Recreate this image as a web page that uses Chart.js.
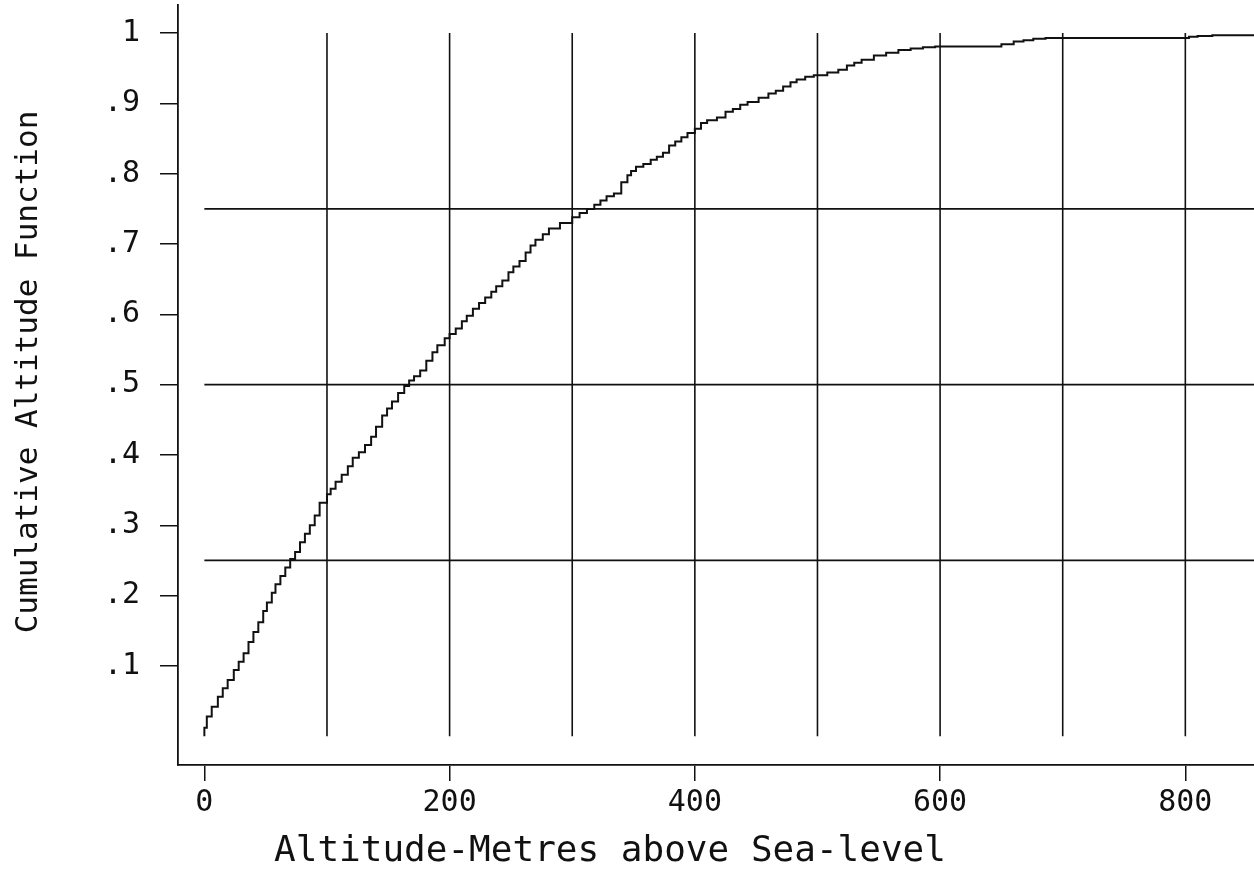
<!DOCTYPE html>
<html>
<head>
<meta charset="utf-8">
<title>Cumulative Altitude Function</title>
<script src="https://cdn.jsdelivr.net/npm/chart.js@4/dist/chart.umd.min.js"></script>
<style>
  html, body { margin: 0; padding: 0; background: #fff; }
  #wrap { width: 1254px; height: 875px; position: relative; }
</style>
</head>
<body>
<div id="wrap"><canvas id="cdf-chart"></canvas></div>
<script>
  // Escalones de la función acumulada (altitud en m, proporción acumulada)
  const altitude = [
    0, 2, 6, 11, 15, 19, 24, 28, 32, 36, 40, 44, 48, 51, 55, 58, 62, 66, 70, 74,
    78, 82, 86, 90, 94, 100, 103, 107, 112, 117, 121, 126, 131, 136, 140, 145, 149, 153, 158, 163,
    167, 171, 176, 181, 186, 190, 196, 200, 205, 210, 214, 219, 224, 229, 234, 238, 243, 248, 252, 257,
    262, 266, 270, 276, 281, 290, 300, 306, 312, 318, 323, 328, 334, 340, 345, 348, 352, 358, 364, 369,
    374, 379, 384, 389, 394, 400, 405, 410, 418, 425, 431, 437, 443, 452, 460, 466, 472, 478, 483, 490,
    497, 508, 517, 524, 530, 536, 546, 556, 566, 576, 586, 596, 650, 660, 668, 676, 686, 803, 810, 822,
    856
  ];
  const cumulative = [
    0.000, 0.012, 0.028, 0.042, 0.056, 0.068, 0.080, 0.094, 0.106, 0.118, 0.134, 0.148, 0.162, 0.178, 0.190, 0.204, 0.216, 0.228, 0.240, 0.252,
    0.262, 0.276, 0.288, 0.300, 0.314, 0.332, 0.344, 0.352, 0.362, 0.372, 0.384, 0.396, 0.404, 0.414, 0.426, 0.440, 0.456, 0.466, 0.476, 0.488,
    0.498, 0.506, 0.512, 0.520, 0.534, 0.546, 0.556, 0.566, 0.572, 0.580, 0.590, 0.598, 0.608, 0.616, 0.624, 0.632, 0.640, 0.648, 0.660, 0.668,
    0.676, 0.688, 0.698, 0.706, 0.714, 0.722, 0.730, 0.738, 0.744, 0.750, 0.756, 0.762, 0.768, 0.772, 0.788, 0.798, 0.804, 0.810, 0.814, 0.820,
    0.824, 0.830, 0.840, 0.846, 0.852, 0.858, 0.864, 0.872, 0.876, 0.880, 0.888, 0.892, 0.898, 0.902, 0.908, 0.914, 0.918, 0.924, 0.930, 0.934,
    0.938, 0.940, 0.944, 0.948, 0.954, 0.958, 0.962, 0.968, 0.972, 0.976, 0.978, 0.980, 0.981, 0.984, 0.988, 0.990, 0.992, 0.993, 0.995, 0.996,
    0.997
  ];

  // Líneas de referencia
  const gridAltitudes = [100, 200, 300, 400, 500, 600, 700, 800];
  const refLevels = [0.25, 0.5, 0.75];
  const gridSpan = [0, 1];          // las verticales van de 0 a 1
  const refSpan = [0, 856];         // las horizontales desde 0 hasta el borde

  // Marcas de los ejes
  const xTicks = [0, 200, 400, 600, 800];
  const yTicks = [0.1, 0.2, 0.3, 0.4, 0.5, 0.6, 0.7, 0.8, 0.9, 1];

  const xTitle = "Altitude-Metres above Sea-level";
  const yTitle = "Cumulative Altitude Function";

  const FONT = "'DejaVu Sans Mono', monospace";
  const INK = "#111";

  const curve = altitude.map((a, i) => ({ x: a, y: cumulative[i] }));

  const refDatasets = [];
  gridAltitudes.forEach(a => {
    refDatasets.push({
      data: gridSpan.map(v => ({ x: a, y: v })),
      borderColor: INK, borderWidth: 1.6, pointRadius: 0
    });
  });
  refLevels.forEach(l => {
    refDatasets.push({
      data: refSpan.map(v => ({ x: v, y: l })),
      borderColor: INK, borderWidth: 1.6, pointRadius: 0
    });
  });

  // Títulos de ejes dibujados a mano (posición libre)
  const axisTitles = {
    id: "axisTitles",
    afterDraw(chart) {
      const ctx = chart.ctx;
      ctx.save();
      ctx.fillStyle = INK;
      ctx.textAlign = "center";
      ctx.textBaseline = "middle";

      ctx.font = "36px " + FONT;
      ctx.fillText(xTitle, 610, 852);

      ctx.translate(29, 372);
      ctx.rotate(-Math.PI / 2);
      ctx.font = "31px " + FONT;
      ctx.fillText(yTitle, 0, 0);
      ctx.restore();
    }
  };

  // Sin margen extra por las etiquetas de los extremos
  function noEdgePadding(s) {
    s.paddingTop = 0;
    s.paddingBottom = 0;
    s.paddingLeft = 0;
    s.paddingRight = 0;
  }

  new Chart(document.getElementById("cdf-chart"), {
    type: "line",
    data: {
      datasets: [
        {
          data: curve,
          stepped: "after",
          borderColor: INK,
          borderWidth: 2,
          pointRadius: 0
        },
        ...refDatasets
      ]
    },
    options: {
      responsive: true,
      maintainAspectRatio: false,
      animation: false,
      events: [],
      layout: { padding: { top: 5, right: 0, left: 0, bottom: 0 } },
      scales: {
        x: {
          type: "linear",
          min: -21.5,
          max: 856,
          afterBuildTicks: s => { s.ticks = xTicks.map(v => ({ value: v })); },
          afterFit: s => { s.height = 110; noEdgePadding(s); },
          grid: { display: true, drawOnChartArea: false, drawTicks: true, tickLength: 16, color: INK, lineWidth: 1.5 },
          border: { display: true, color: INK, width: 1.8 },
          ticks: {
            color: INK,
            padding: 4,
            maxRotation: 0,
            font: { family: FONT, size: 30 },
            callback: v => String(v)
          }
        },
        y: {
          type: "linear",
          min: -0.041,
          max: 1.040,
          afterBuildTicks: s => { s.ticks = yTicks.map(v => ({ value: v })); },
          afterFit: s => { s.width = 178; noEdgePadding(s); },
          grid: { display: true, drawOnChartArea: false, drawTicks: true, tickLength: 18, color: INK, lineWidth: 1.5 },
          border: { display: true, color: INK, width: 1.8 },
          ticks: {
            color: INK,
            padding: 20,
            font: { family: FONT, size: 30 },
            callback: v => (v >= 1 ? "1" : "." + Math.round(v * 10))
          }
        }
      },
      plugins: {
        legend: { display: false },
        tooltip: { enabled: false }
      }
    },
    plugins: [axisTitles]
  });
</script>
</body>
</html>
